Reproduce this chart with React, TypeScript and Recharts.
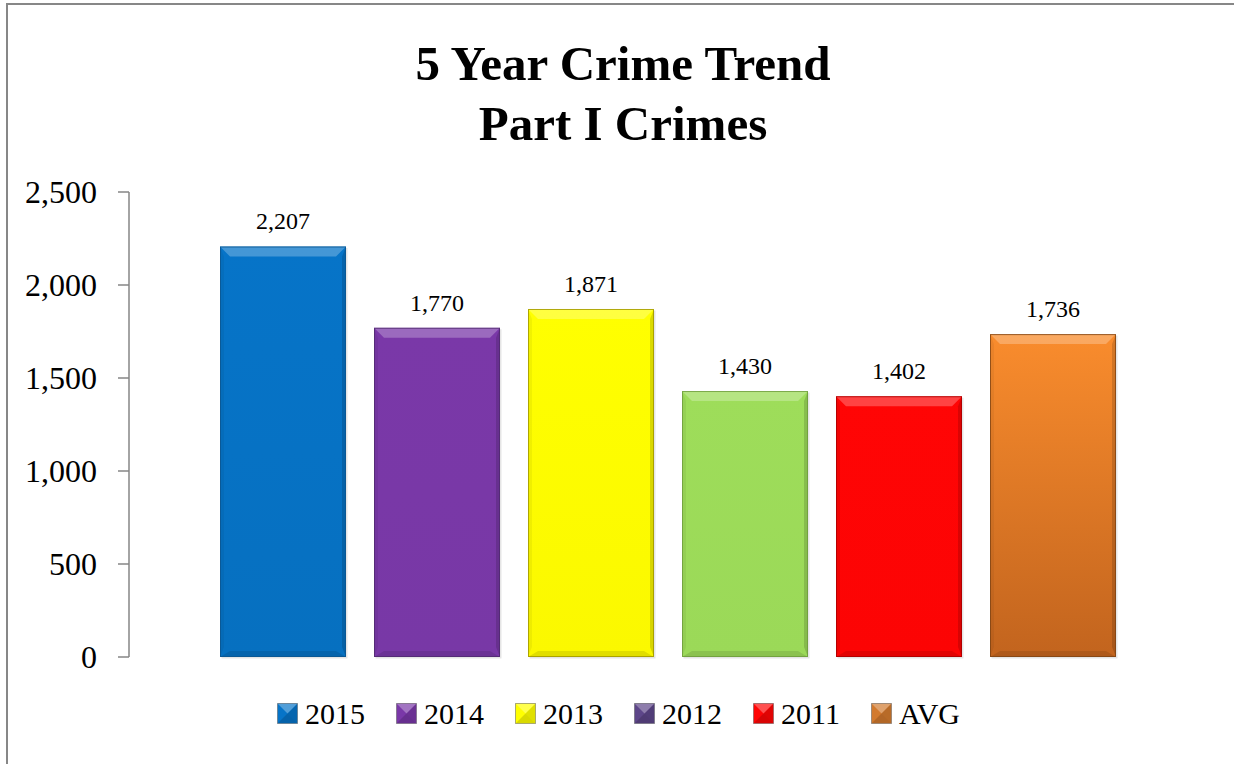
import React from 'react';
import { BarChart, Bar, XAxis, YAxis, LabelList } from 'recharts';

const titleLines = ['5 Year Crime Trend', 'Part I Crimes'];
const categories = ['Part I Crimes'];
const seriesNames = ['2015', '2014', '2013', '2012', '2011', 'AVG'];
const seriesValues = [2207, 1770, 1871, 1430, 1402, 1736];
const yTicks = [0, 500, 1000, 1500, 2000, 2500];

// [top colour, bottom colour, edge colour]
const barColors: string[][] = [
  ['#0674c8', '#0670c0', '#0b558f'],
  ['#7a38a8', '#7838a6', '#4f2a6e'],
  ['#ffff00', '#fbf800', '#9d9400'],
  ['#9edd5a', '#9bd958', '#6d9a3c'],
  ['#ff0505', '#fc0404', '#a80000'],
  ['#f98c2d', '#c2641e', '#7e4414'],
];
const legendColors = ['#0674c8', '#7a38a8', '#ffff00', '#5d4689', '#ff0505', '#d27a2e'];

const data = categories.map((c) => {
  const row: Record<string, string | number> = { category: c };
  seriesNames.forEach((n, i) => {
    row[n] = seriesValues[i];
  });
  return row;
});

const SERIF = '"Palatino Linotype", "Book Antiqua", Palatino, "Liberation Serif", "Times New Roman", serif';

function BevelBar(props: any) {
  const { x, y, width, height, idx } = props;
  if (!width || !height || height <= 0) return null;
  const [c1, c2, edge] = barColors[idx];
  const b = Math.min(10, width / 4, height / 4);
  const s = 4;
  const gid = `bg${idx}`;
  const x2 = x + width;
  const y2 = y + height;
  return (
    <g>
      <defs>
        <linearGradient id={gid} x1="0" y1="0" x2="0" y2="1">
          <stop offset="0%" stopColor={c1} />
          <stop offset="100%" stopColor={c2} />
        </linearGradient>
      </defs>
      <rect x={x + 1.5} y={y + 1.5} width={width} height={height} fill="#000" opacity={0.1} />
      <rect x={x} y={y} width={width} height={height} fill={`url(#${gid})`} />
      <polygon points={`${x},${y} ${x2},${y} ${x2 - b},${y + b} ${x + b},${y + b}`} fill="#fff" opacity={0.25} />
      <polygon points={`${x},${y} ${x + s},${y + b} ${x + s},${y2 - b} ${x},${y2}`} fill="#000" opacity={0.05} />
      <polygon points={`${x2},${y} ${x2},${y2} ${x2 - s},${y2 - b} ${x2 - s},${y + b}`} fill="#000" opacity={0.14} />
      <polygon points={`${x},${y2} ${x + b},${y2 - s - 2} ${x2 - b},${y2 - s - 2} ${x2},${y2}`} fill="#000" opacity={0.1} />
      <rect x={x + 0.5} y={y + 0.5} width={width - 1} height={height - 1} fill="none" stroke={edge} strokeWidth={1} strokeOpacity={0.8} />
    </g>
  );
}

function LegendMarker({ color }: { color: string }) {
  return (
    <svg width={21} height={21} style={{ display: 'block' }}>
      <rect x={0.5} y={0.5} width={20} height={20} fill={color} stroke="#555" strokeOpacity={0.5} />
      <polygon points="1,1 20,1 10.5,10.5" fill="#fff" opacity={0.3} />
      <polygon points="20,1 20,20 10.5,10.5" fill="#000" opacity={0.12} />
      <polygon points="1,20 20,20 10.5,10.5" fill="#000" opacity={0.15} />
    </svg>
  );
}

const fmt = (v: any) => Number(v).toLocaleString('en-US');

export default function App() {
  return (
    <div style={{ position: 'absolute', left: 0, top: 0, width: 1234, height: 764, overflow: 'hidden', background: '#fff' }}>
      <div
        style={{
          position: 'absolute',
          left: 6,
          top: 3,
          width: 1240,
          height: 780,
          borderLeft: '2px solid #878787',
          borderTop: '2px solid #878787',
        }}
      />
      <div
        style={{
          position: 'absolute',
          left: 0,
          top: 34,
          width: 1246,
          textAlign: 'center',
          fontFamily: SERIF,
          fontWeight: 'bold',
          fontSize: 49,
          lineHeight: '60px',
          color: '#000',
        }}
      >
        {titleLines.map((t) => (
          <div key={t}>{t}</div>
        ))}
      </div>
      <div style={{ position: 'absolute', left: 0, top: 0 }}>
        <BarChart
          width={1234}
          height={764}
          data={data}
          margin={{ top: 192, right: 25, bottom: 107, left: 0 }}
          barCategoryGap={91}
          barGap={28}
        >
          <XAxis dataKey="category" hide />
          <YAxis
            width={129}
            domain={[0, 2500]}
            ticks={yTicks}
            interval={0}
            tickFormatter={fmt}
            axisLine={{ stroke: '#868686', strokeWidth: 1.5 }}
            tickLine={{ stroke: '#868686', strokeWidth: 1.5 }}
            tickSize={11}
            tickMargin={21}
            tick={{ fill: '#000', fontSize: 32, fontFamily: SERIF }}
          />
          {seriesNames.map((n, i) => (
            <Bar
              key={n}
              dataKey={n}
              fill={barColors[i][0]}
              isAnimationActive={false}
              shape={(p: any) => <BevelBar {...p} idx={i} />}
            >
              <LabelList
                dataKey={n}
                position="top"
                offset={17}
                formatter={fmt}
                fill="#000"
                fontSize={24}
                fontFamily={SERIF}
              />
            </Bar>
          ))}
        </BarChart>
      </div>
      <div
        style={{
          position: 'absolute',
          left: 277,
          top: 689,
          display: 'flex',
          alignItems: 'center',
          fontFamily: SERIF,
          fontSize: 30,
          color: '#000',
          height: 48,
        }}
      >
        {seriesNames.map((n, i) => (
          <div key={n} style={{ display: 'flex', alignItems: 'center', marginRight: 31 }}>
            <LegendMarker color={legendColors[i]} />
            <span style={{ marginLeft: 7, lineHeight: '30px', position: 'relative', top: 1 }}>{n}</span>
          </div>
        ))}
      </div>
    </div>
  );
}
